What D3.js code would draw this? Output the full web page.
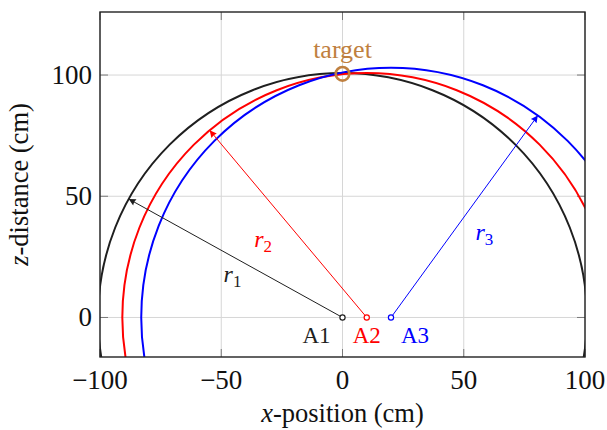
<!DOCTYPE html>
<html>
<head>
<meta charset="utf-8">
<script src="https://cdn.jsdelivr.net/npm/d3@7"></script>
<style>
  html, body { margin: 0; padding: 0; background: #fff; }
  svg text { font-family: "Liberation Serif", "Times New Roman", serif; }
</style>
</head>
<body>
<svg id="chart" width="607" height="430"></svg>
<script>
// Axis extents and ticks
const xDomain = [-100, 100];
const yDomain = [-16.3, 126];
const xTicks = [-100, -50, 0, 50, 100];
const yTicks = [0, 50, 100];

// Receivers on the x axis, their measured ranges and the direction of the radius arrow
const anchorNames = ["A1", "A2", "A3"];
const anchorX = [0, 10, 20];
const radii = [100.8, 100.8, 103.0];
const arrowAngles = [151, 130, 54];
const radiusLabels = ["1", "2", "3"];
const colors = ["#1f1f1f", "#ff0000", "#0000ff"];

// Estimated target position
const targetPos = [0, 100.5];
const targetColor = "#bf8040";

(function draw() {
  const svg = d3.select("#chart");
  const mLeft = 100, mRight = 585, mTop = 12, mBottom = 357;

  const x = d3.scaleLinear().domain(xDomain).range([mLeft, mRight]);
  const y = d3.scaleLinear().domain(yDomain).range([mBottom, mTop]);

  const defs = svg.append("defs");
  defs.append("clipPath").attr("id", "plot-clip")
    .append("rect").attr("x", mLeft).attr("y", mTop)
    .attr("width", mRight - mLeft).attr("height", mBottom - mTop);

  colors.forEach((c, i) => {
    defs.append("marker")
      .attr("id", "arrow" + i)
      .attr("viewBox", "0 0 10 10")
      .attr("refX", 10).attr("refY", 5)
      .attr("markerWidth", 10).attr("markerHeight", 7)
      .attr("markerUnits", "userSpaceOnUse")
      .attr("orient", "auto")
      .append("path")
      .attr("d", "M0,0 L10,5 L0,10 Q2,5 0,0 Z")
      .attr("fill", c);
  });

  // Grid
  const grid = svg.append("g").attr("stroke", "#d6d6d6").attr("stroke-width", 1);
  grid.selectAll("line.gx").data(xTicks).join("line").attr("class", "gx")
    .attr("x1", d => x(d)).attr("x2", d => x(d))
    .attr("y1", mTop).attr("y2", mBottom);
  grid.selectAll("line.gy").data(yTicks).join("line").attr("class", "gy")
    .attr("y1", d => y(d)).attr("y2", d => y(d))
    .attr("x1", mLeft).attr("x2", mRight);

  // Inner tick marks on all four sides
  const tickLen = 8;
  const ticks = svg.append("g").attr("stroke", "#7a7a7a").attr("stroke-width", 1);
  xTicks.forEach(t => {
    ticks.append("line").attr("x1", x(t)).attr("x2", x(t)).attr("y1", mBottom).attr("y2", mBottom - tickLen);
    ticks.append("line").attr("x1", x(t)).attr("x2", x(t)).attr("y1", mTop).attr("y2", mTop + tickLen);
  });
  yTicks.forEach(t => {
    ticks.append("line").attr("y1", y(t)).attr("y2", y(t)).attr("x1", mLeft).attr("x2", mLeft + tickLen);
    ticks.append("line").attr("y1", y(t)).attr("y2", y(t)).attr("x1", mRight).attr("x2", mRight - tickLen);
  });

  // Range circles
  const plot = svg.append("g").attr("clip-path", "url(#plot-clip)");
  anchorNames.forEach((name, i) => {
    const cx = anchorX[i], r = radii[i];
    plot.append("circle")
      .attr("cx", x(cx)).attr("cy", y(0))
      .attr("r", x(cx + r) - x(cx))
      .attr("fill", "none").attr("stroke", colors[i]).attr("stroke-width", 2);
  });

  // Radius arrows
  const arrows = svg.append("g");
  anchorNames.forEach((name, i) => {
    const cx = anchorX[i], r = radii[i];
    const a = arrowAngles[i] * Math.PI / 180;
    const tx = cx + r * Math.cos(a), ty = r * Math.sin(a);
    arrows.append("line")
      .attr("x1", x(cx)).attr("y1", y(0))
      .attr("x2", x(tx)).attr("y2", y(ty))
      .attr("stroke", colors[i]).attr("stroke-width", 1)
      .attr("marker-end", "url(#arrow" + i + ")");
  });

  // Radius labels, placed off the middle of each arrow
  const labelShift = [[-12, 24], [-34, 23], [11, 24]];
  anchorNames.forEach((name, i) => {
    const cx = anchorX[i], r = radii[i];
    const a = arrowAngles[i] * Math.PI / 180;
    const mx = cx + r * Math.cos(a) / 2, my = r * Math.sin(a) / 2;
    const t = svg.append("text")
      .attr("x", x(mx) + labelShift[i][0])
      .attr("y", y(my) + labelShift[i][1])
      .attr("fill", colors[i]).attr("font-size", 24);
    t.append("tspan").attr("font-style", "italic").text("r");
    t.append("tspan").attr("font-size", 17).attr("dy", 5).text(radiusLabels[i]);
  });

  // Receiver markers and names
  const nameAnchor = ["end", "middle", "start"];
  const nameDx = [-12, 0, 10];
  anchorNames.forEach((name, i) => {
    svg.append("circle")
      .attr("cx", x(anchorX[i])).attr("cy", y(0)).attr("r", 2.6)
      .attr("fill", "#fff").attr("stroke", colors[i]).attr("stroke-width", 1.2);
    svg.append("text")
      .attr("x", x(anchorX[i]) + nameDx[i]).attr("y", y(0) + 26)
      .attr("text-anchor", nameAnchor[i])
      .attr("fill", colors[i]).attr("font-size", 23)
      .text(name);
  });

  // Target
  svg.append("circle")
    .attr("cx", x(targetPos[0])).attr("cy", y(targetPos[1])).attr("r", 6.8)
    .attr("fill", "none").attr("stroke", targetColor).attr("stroke-width", 2.6);
  svg.append("text")
    .attr("x", x(targetPos[0])).attr("y", y(targetPos[1]) - 16)
    .attr("text-anchor", "middle").attr("fill", targetColor).attr("font-size", 26)
    .text("target");

  // Frame
  svg.append("rect")
    .attr("x", mLeft).attr("y", mTop).attr("width", mRight - mLeft).attr("height", mBottom - mTop)
    .attr("fill", "none").attr("stroke", "#222").attr("stroke-width", 1.4);

  // Tick labels
  const fmt = d3.format("d");
  svg.append("g").selectAll("text").data(xTicks).join("text")
    .attr("x", d => x(d)).attr("y", 389)
    .attr("text-anchor", "middle").attr("font-size", 27).attr("fill", "#111")
    .text(d => fmt(d));
  svg.append("g").selectAll("text").data(yTicks).join("text")
    .attr("x", mLeft - 8).attr("y", d => y(d) + 9)
    .attr("text-anchor", "end").attr("font-size", 27).attr("fill", "#111")
    .text(d => fmt(d));

  // Axis titles
  const xt = svg.append("text")
    .attr("x", (mLeft + mRight) / 2).attr("y", 422)
    .attr("text-anchor", "middle").attr("font-size", 26.5).attr("fill", "#111");
  xt.append("tspan").attr("font-style", "italic").text("x");
  xt.append("tspan").text("-position (cm)");

  const yt = svg.append("text")
    .attr("transform", `translate(28,${(mTop + mBottom) / 2}) rotate(-90)`)
    .attr("text-anchor", "middle").attr("font-size", 26.5).attr("fill", "#111");
  yt.append("tspan").attr("font-style", "italic").text("z");
  yt.append("tspan").text("-distance (cm)");
})();
</script>
</body>
</html>
